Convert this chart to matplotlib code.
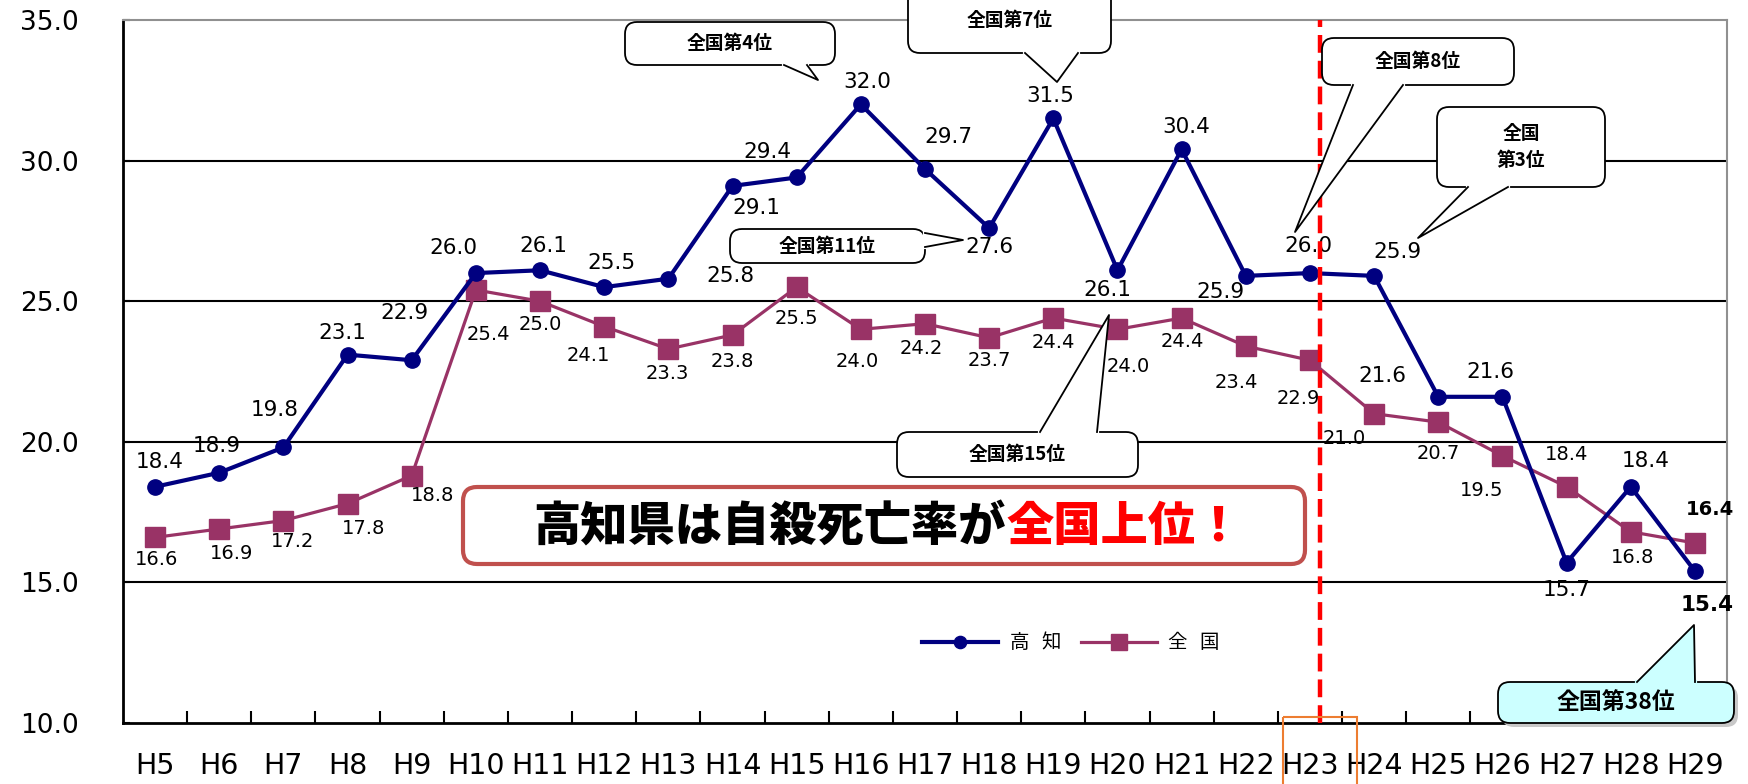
import matplotlib
matplotlib.use('Agg')
import matplotlib.pyplot as plt
import matplotlib.transforms as mtransforms
from matplotlib.patches import FancyBboxPatch, Polygon, Rectangle

plt.rcParams['font.family'] = ['DejaVu Sans', 'Noto Sans CJK JP']
JP = ['Noto Sans CJK JP', 'DejaVu Sans']

# データ
years = ['H5', 'H6', 'H7', 'H8', 'H9', 'H10', 'H11', 'H12', 'H13', 'H14', 'H15',
         'H16', 'H17', 'H18', 'H19', 'H20', 'H21', 'H22', 'H23', 'H24', 'H25',
         'H26', 'H27', 'H28', 'H29']
kochi = [18.4, 18.9, 19.8, 23.1, 22.9, 26.0, 26.1, 25.5, 25.8, 29.1, 29.4, 32.0,
         29.7, 27.6, 31.5, 26.1, 30.4, 25.9, 26.0, 25.9, 21.6, 21.6, 15.7, 18.4, 15.4]
zenkoku = [16.6, 16.9, 17.2, 17.8, 18.8, 25.4, 25.0, 24.1, 23.3, 23.8, 25.5, 24.0,
           24.2, 23.7, 24.4, 24.0, 24.4, 23.4, 22.9, 21.0, 20.7, 19.5, 18.4, 16.8, 16.4]
yticks = [10, 15, 20, 25, 30, 35]

# ラベル位置のずれ (画像ピクセル, yは下向き)
kochi_off = [(5, -25), (-3, -27), (-9, -37), (-5, -22), (-7, -47), (-23, -25), (3, -24),
             (7, -24), (62, -3), (24, 22), (-29, -25), (6, -22), (23, -32), (0, 19),
             (-3, -22), (-10, 20), (5, -22), (-25, 16), (-2, -27), (23, -24), (-56, -21),
             (-12, -25), (0, 27), (15, -26), (12, 34)]
zenkoku_off = [(1, 22), (12, 25), (9, 21), (16, 25), (21, 20), (12, 45), (0, 23), (-16, 29),
               (-1, 24), (0, 27), (0, 31), (-4, 32), (-4, 25), (0, 23), (0, 24), (11, 37),
               (1, 23), (-9, 36), (-12, 38), (-30, 25), (0, 31), (-21, 35), (0, -32),
               (2, 26), (15, -34)]

W, H = 1749, 784
fig = plt.figure(figsize=(W / 100, H / 100), dpi=100)
pix = mtransforms.Affine2D().scale(1 / W, -1 / H).translate(0, 1) + fig.transFigure

ax = fig.add_axes([123 / W, 1 - 723 / H, (1727 - 123) / W, (723 - 20) / H])
x = list(range(len(years)))

for y in [15, 20, 25, 30]:
    ax.axhline(y, color='black', lw=1.5, zorder=1)

l1, = ax.plot(x, kochi, color='#000080', lw=3, marker='o', ms=11, zorder=4, label='高  知')
l2, = ax.plot(x, zenkoku, color='#993366', lw=2.3, marker='s', ms=15, zorder=3, label='全  国')

for i, v in enumerate(kochi):
    dx, dy = kochi_off[i]
    bold = 'bold' if i == len(kochi) - 1 else 'normal'
    ax.annotate(f'{v:.1f}', (i, v), xytext=(dx, -dy), textcoords='offset pixels',
                ha='center', va='center', fontsize=15.5, fontweight=bold, zorder=5)
for i, v in enumerate(zenkoku):
    dx, dy = zenkoku_off[i]
    bold = 'bold' if i == len(zenkoku) - 1 else 'normal'
    ax.annotate(f'{v:.1f}', (i, v), xytext=(dx, -dy), textcoords='offset pixels',
                ha='center', va='center', fontsize=14, fontweight=bold, zorder=5)

ax.axvline(18.15, color='red', lw=3.2, ls=(0, (4, 1.8)), zorder=7)

ax.set_xlim(-0.5, 24.5)
ax.set_ylim(10, 35)
ax.set_yticks(yticks, labels=[f'{t:.1f}' for t in yticks])
ax.set_xticks([i + 0.5 for i in x], labels=[])
ax.set_xticks(x, labels=years, minor=True)
ax.tick_params(axis='x', which='major', direction='in', length=9, width=1.5)
ax.tick_params(axis='x', which='minor', length=0, pad=21, labelsize=20.5)
ax.tick_params(axis='y', direction='in', length=5, width=1.5, pad=32, labelsize=19)
for s in ['left', 'bottom']:
    ax.spines[s].set_linewidth(2)
    ax.spines[s].set_color('black')
for s in ['top', 'right']:
    ax.spines[s].set_linewidth(1.5)
    ax.spines[s].set_color('#909090')

ax.legend(handles=[l1, l2], loc='center', bbox_to_anchor=(0.591, 0.114), ncol=2,
          frameon=False, fontsize=14, handlelength=3.9, handletextpad=0.6,
          columnspacing=1.0, markerscale=0.8)


def callout(box, base, tip, text, fc='white', fs=13.5, shadow=False):
    x0, y0, x1, y1 = box
    if shadow:
        fig.patches.append(FancyBboxPatch((x0 + 4, y0 + 4), x1 - x0, y1 - y0,
                                          boxstyle='round,pad=0,rounding_size=12',
                                          transform=pix, fc='#c8c8c8', ec='none',
                                          zorder=5.5))
    fig.patches.append(FancyBboxPatch((x0, y0), x1 - x0, y1 - y0,
                                      boxstyle='round,pad=0,rounding_size=12',
                                      transform=pix, fc=fc, ec='black', lw=1.3, zorder=6))
    b0, b1 = base
    fig.patches.append(Polygon([b0, tip, b1], closed=True, transform=pix, fc=fc,
                               ec='none', zorder=6.1))
    fig.lines.append(plt.Line2D([b0[0], b1[0]], [b0[1], b1[1]], transform=pix,
                                color=fc, lw=3, zorder=6.2))
    fig.lines.append(plt.Line2D([b0[0], tip[0], b1[0]], [b0[1], tip[1], b1[1]],
                                transform=pix, color='black', lw=1.3, zorder=6.3))
    fig.text((x0 + x1) / 2, (y0 + y1) / 2, text, transform=pix, ha='center',
             va='center', fontsize=fs, fontweight='bold', family=JP, zorder=6.5,
             linespacing=1.5)


callout((625, 22, 835, 65), ((784, 65), (807, 65)), (818, 80), '全国第4位')
callout((908, -12, 1111, 53), ((1025, 53), (1078, 53)), (1057, 82), '全国第7位')
callout((730, 229, 925, 263), ((925, 233), (925, 247)), (963, 240), '全国第11位')
callout((1322, 38, 1514, 85), ((1353, 85), (1403, 85)), (1295, 232), '全国第8位')
callout((1437, 107, 1605, 187), ((1468, 187), (1508, 187)), (1418, 238), '全国\n第3位')
callout((897, 432, 1138, 477), ((1040, 432), (1097, 432)), (1109, 315), '全国第15位')
callout((1498, 682, 1734, 723), ((1637, 682), (1695, 682)), (1694, 625), '全国第38位',
        fc='#ccffff', fs=16.5, shadow=True)

# タイトルの枠
fig.patches.append(FancyBboxPatch((463, 487), 842, 77, boxstyle='round,pad=0,rounding_size=14',
                                  transform=pix, fc='white', ec='#c0504d', lw=3, zorder=5))
fig.text(1006, 527, '高知県は自殺死亡率が', transform=pix, ha='right', va='center',
         fontsize=34, fontweight='heavy', family=JP, color='black', zorder=5.5)
fig.text(1006, 527, '全国上位！', transform=pix, ha='left', va='center',
         fontsize=34, fontweight='heavy', family=JP, color='red', zorder=5.5)

fig.patches.append(Rectangle((1283, 717), 74, 80, transform=pix, fill=False,
                             ec='#ed7d31', lw=1.5, zorder=8))

fig.savefig('out.png', dpi=100)
